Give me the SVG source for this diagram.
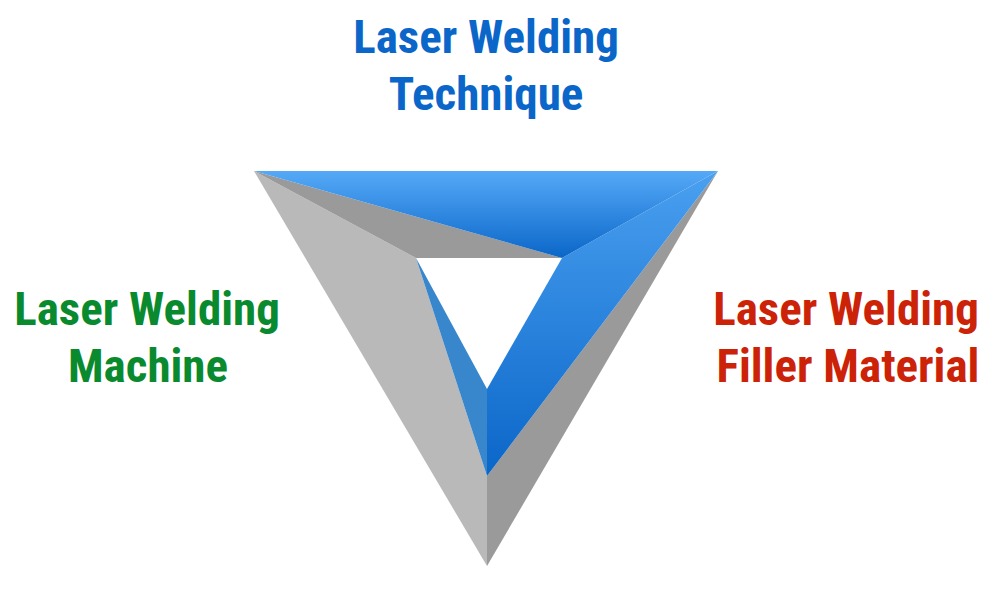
<svg xmlns="http://www.w3.org/2000/svg" width="1000" height="600" viewBox="0 0 1000 600">
<defs>
<style>
.lbl{font-family:"Liberation Sans Narrow","Roboto Condensed","Liberation Sans",Arial,sans-serif;font-weight:bold;font-size:47px;text-anchor:middle}
.blue{fill:#0a66c8}
.green{fill:#0a8a2e}
.red{fill:#cc2208}
</style>
<linearGradient id="gTop" x1="0" y1="171" x2="0" y2="258" gradientUnits="userSpaceOnUse">
<stop offset="0" stop-color="#55a9f7"/>
<stop offset="1" stop-color="#0a66c8"/>
</linearGradient>
<linearGradient id="gRight" x1="0" y1="171" x2="0" y2="476" gradientUnits="userSpaceOnUse">
<stop offset="0" stop-color="#4aa0f0"/>
<stop offset="1" stop-color="#0a66c8"/>
</linearGradient>
</defs>
<rect width="1000" height="600" fill="#ffffff"/>
<g id="triangle">
<polygon points="254,171 416,258 487,476 487,566" fill="#b9b9b9"/>
<polygon points="718,171 487,476 487,566" fill="#9a9a9a"/>
<polygon points="254,171 562,258 416,258" fill="#9a9a9a"/>
<polygon points="416,258 487,389 487,476" fill="#3886cc"/>
<polygon points="718,171 562,258 487,389 487,476" fill="url(#gRight)"/>
<polygon points="254,171 718,171 562,258" fill="url(#gTop)"/>
</g>
<g id="node-technique">
<text class="lbl blue" x="486" y="53">Laser Welding</text>
<text class="lbl blue" x="486" y="110">Technique</text>
</g>
<g id="node-machine">
<text class="lbl green" x="147" y="325">Laser Welding</text>
<text class="lbl green" x="148" y="382">Machine</text>
</g>
<g id="node-filler">
<text class="lbl red" x="846" y="325">Laser Welding</text>
<text class="lbl red" x="848" y="382">Filler Material</text>
</g>
<g id="connectors"/>
</svg>
